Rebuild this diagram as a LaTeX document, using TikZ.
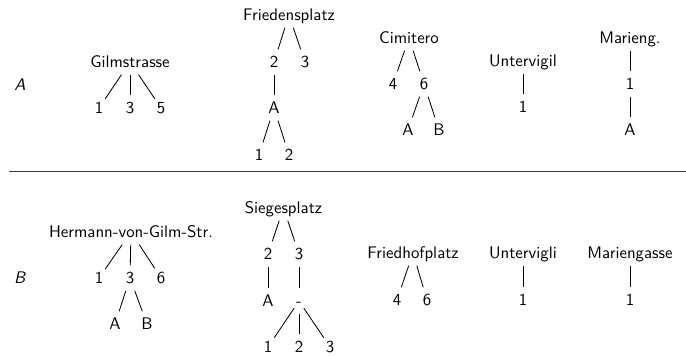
\documentclass[tikz,border=0pt]{standalone}
\begin{document}
\begin{tikzpicture}[x=0.595pt,y=-0.595pt,
  font=\sffamily,
  tn/.style={inner xsep=1pt,inner ysep=2.6pt,text height=8pt,text depth=1.5pt},
  lab/.style={inner sep=0pt},
  edge/.style={line width=0.5pt},
  rule/.style={line width=0.55pt,black!75}]
\useasboundingbox (0,0) rectangle (686,356);

% ---- upper row ----
\node[lab] (labA) at (20,85) {\textit{A}};

\node[tn] (g0) at (130,62) {Gilmstrasse};
\node[tn] (g1) at (99,108) {1};
\node[tn] (g2) at (130,108) {3};
\node[tn] (g3) at (161,108) {5};
\draw[edge] (g0) -- (g1); \draw[edge] (g0) -- (g2); \draw[edge] (g0) -- (g3);

\node[tn] (f0) at (289,15) {Friedensplatz};
\node[tn] (f1) at (274,62) {2};
\node[tn] (f2) at (305,62) {3};
\node[tn] (f3) at (274,108) {A};
\node[tn] (f4) at (259,155) {1};
\node[tn] (f5) at (289,155) {2};
\draw[edge] (f0) -- (f1); \draw[edge] (f0) -- (f2);
\draw[edge] (f1) -- (f3);
\draw[edge] (f3) -- (f4); \draw[edge] (f3) -- (f5);

\node[tn] (c0) at (409,38) {Cimitero};
\node[tn] (c1) at (393,84) {4};
\node[tn] (c2) at (424,84) {6};
\node[tn] (c3) at (408,130) {A};
\node[tn] (c4) at (439,130) {B};
\draw[edge] (c0) -- (c1); \draw[edge] (c0) -- (c2);
\draw[edge] (c2) -- (c3); \draw[edge] (c2) -- (c4);

\node[tn] (u0) at (523,61) {Untervigil};
\node[tn] (u1) at (523,107) {1};
\draw[edge] (u0) -- (u1);

\node[tn] (m0) at (630,38) {Marieng.};
\node[tn] (m1) at (630,84) {1};
\node[tn] (m2) at (630,130) {A};
\draw[edge] (m0) -- (m1); \draw[edge] (m1) -- (m2);

% ---- separator ----
\coordinate (sepL) at (9,171.5);
\coordinate (sepR) at (686,171.5);
\draw[rule] (sepL) -- (sepR);

% ---- lower row ----
\node[lab] (labB) at (20,278) {\textit{B}};

\node[tn] (h0) at (131,232) {Hermann-von-Gilm-Str.};
\node[tn] (h1) at (99,278) {1};
\node[tn] (h2) at (130,278) {3};
\node[tn] (h3) at (161,278) {6};
\node[tn] (h4) at (115,324) {A};
\node[tn] (h5) at (147,324) {B};
\draw[edge] (h0) -- (h1); \draw[edge] (h0) -- (h2); \draw[edge] (h0) -- (h3);
\draw[edge] (h2) -- (h4); \draw[edge] (h2) -- (h5);

\node[tn] (s0) at (283.5,208) {Siegesplatz};
\node[tn] (s1) at (268,254) {2};
\node[tn] (s2) at (299,254) {3};
\node[tn] (s3) at (268,301) {A};
\node[tn] (s4) at (299,301) {-};
\node[tn] (s5) at (268,347) {1};
\node[tn] (s6) at (299,347) {2};
\node[tn] (s7) at (330,347) {3};
\draw[edge] (s0) -- (s1); \draw[edge] (s0) -- (s2);
\draw[edge] (s1) -- (s3); \draw[edge] (s2) -- (s4);
\draw[edge] (s4) -- (s5); \draw[edge] (s4) -- (s6); \draw[edge] (s4) -- (s7);

\node[tn] (r0) at (413,253) {Friedhofplatz};
\node[tn] (r1) at (397,300) {4};
\node[tn] (r2) at (427,300) {6};
\draw[edge] (r0) -- (r1); \draw[edge] (r0) -- (r2);

\node[tn] (v0) at (523,253) {Untervigli};
\node[tn] (v1) at (523,300) {1};
\draw[edge] (v0) -- (v1);

\node[tn] (w0) at (630,253) {Mariengasse};
\node[tn] (w1) at (630,300) {1};
\draw[edge] (w0) -- (w1);
\end{tikzpicture}
\end{document}
